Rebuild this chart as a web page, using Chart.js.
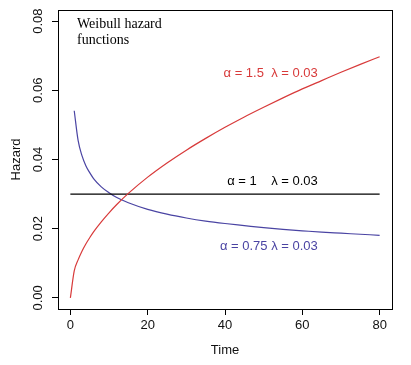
<!DOCTYPE html>
<html>
<head>
<meta charset="utf-8">
<script src="https://cdn.jsdelivr.net/npm/chart.js@4/dist/chart.umd.min.js"></script>
<style>
  html, body { margin: 0; padding: 0; background: #fff; }
</style>
</head>
<body>
<canvas id="chart" width="411" height="365"></canvas>
<script>
// values
const timeRed = [0, 1, 2, 3, 4, 5, 6, 8, 10, 12, 15, 20, 25, 30, 35, 40, 45, 50, 55, 60, 65, 70, 75, 80];
const hazardRed = [0, 0.0078, 0.0110, 0.0135, 0.0156, 0.0174, 0.0191, 0.0220, 0.0246, 0.0270, 0.0302, 0.0349,
  0.0390, 0.0427, 0.0461, 0.0493, 0.0523, 0.0551, 0.0578, 0.0604, 0.0628, 0.0652, 0.0675, 0.0697];

const timeBlue = [1, 2, 3, 4, 5, 6, 8, 10, 12, 15, 20, 25, 30, 35, 40, 45, 50, 55, 60, 65, 70, 75, 80];
const hazardBlue = [0.0541, 0.0455, 0.0411, 0.0382, 0.0362, 0.0345, 0.0321, 0.0304, 0.0290, 0.0275, 0.0256,
  0.0242, 0.0231, 0.0222, 0.0215, 0.0209, 0.0203, 0.0198, 0.0194, 0.0190, 0.0187, 0.0184, 0.0181];

const timeBlack = [0, 80];
const hazardBlack = [0.03, 0.03];

const xTicks = [0, 20, 40, 60, 80];
const yTicks = [0.00, 0.02, 0.04, 0.06, 0.08];

const RED = "#d83a3a";
const BLUE = "#4a44a3";
const SANS = "'Liberation Sans', Arial, sans-serif";
const SERIF = "'Liberation Serif', 'Times New Roman', serif";

function toPoints(xs, ys) {
  return xs.map((x, i) => ({ x: x, y: ys[i] }));
}

const decorations = {
  id: "decorations",
  afterDraw(chart) {
    const ctx = chart.ctx;
    const area = chart.chartArea;
    const xs = chart.scales.x;
    const ys = chart.scales.y;

    ctx.save();
    // box round the plot
    ctx.strokeStyle = "#000";
    ctx.lineWidth = 1;
    ctx.strokeRect(Math.round(area.left) + 0.5, Math.round(area.top) + 0.5,
      Math.round(area.right - area.left), Math.round(area.bottom - area.top));

    // y tick labels, turned like in R
    ctx.fillStyle = "#111";
    ctx.font = "13px " + SANS;
    ctx.textAlign = "center";
    ctx.textBaseline = "middle";
    for (const v of yTicks) {
      ctx.save();
      ctx.translate(38, ys.getPixelForValue(v));
      ctx.rotate(-Math.PI / 2);
      ctx.fillText(v.toFixed(2), 0, 0);
      ctx.restore();
    }

    // axis titles
    ctx.save();
    ctx.translate(16, (area.top + area.bottom) / 2);
    ctx.rotate(-Math.PI / 2);
    ctx.fillText("Hazard", 0, 0);
    ctx.restore();
    ctx.fillText("Time", (area.left + area.right) / 2, 350);

    // title
    ctx.fillStyle = "#000";
    ctx.font = "14px " + SERIF;
    ctx.textAlign = "left";
    ctx.textBaseline = "alphabetic";
    ctx.fillText("Weibull hazard", 77, 28);
    ctx.fillText("functions", 77, 44);

    // curve labels
    ctx.font = "13px " + SANS;
    ctx.textAlign = "right";
    ctx.textBaseline = "middle";
    ctx.fillStyle = RED;
    ctx.fillText("\u03b1 = 1.5  \u03bb = 0.03", xs.getPixelForValue(64), ys.getPixelForValue(0.0649));
    ctx.fillStyle = "#000";
    ctx.fillText("\u03b1 = 1    \u03bb = 0.03", xs.getPixelForValue(64), ys.getPixelForValue(0.0336));
    ctx.fillStyle = BLUE;
    ctx.fillText("\u03b1 = 0.75 \u03bb = 0.03", xs.getPixelForValue(64), ys.getPixelForValue(0.0150));
    ctx.restore();
  }
};

new Chart(document.getElementById("chart"), {
  type: "line",
  data: {
    datasets: [
      { data: toPoints(timeRed, hazardRed), borderColor: RED },
      { data: toPoints(timeBlack, hazardBlack), borderColor: "#000" },
      { data: toPoints(timeBlue, hazardBlue), borderColor: BLUE },
    ]
  },
  options: {
    responsive: false,
    animation: false,
    layout: { padding: { left: 0, right: 19, top: 10, bottom: 0 } },
    elements: {
      point: { radius: 0 },
      line: { borderWidth: 1.2, tension: 0.3, cubicInterpolationMode: "monotone" }
    },
    plugins: {
      legend: { display: false },
      tooltip: { enabled: false }
    },
    scales: {
      x: {
        type: "linear",
        min: -3.2,
        max: 83.2,
        afterBuildTicks: (s) => { s.ticks = xTicks.map(v => ({ value: v })); },
        afterFit: (s) => { s.height = 56; },
        border: { display: false },
        grid: { drawOnChartArea: false, drawTicks: true, tickLength: 6, color: "#000" },
        ticks: { color: "#111", font: { family: SANS, size: 13 }, padding: 3, maxRotation: 0 }
      },
      y: {
        min: -0.0032,
        max: 0.0832,
        afterBuildTicks: (s) => { s.ticks = yTicks.map(v => ({ value: v })); },
        afterFit: (s) => { s.width = 58; },
        border: { display: false },
        grid: { drawOnChartArea: false, drawTicks: true, tickLength: 6, color: "#000" },
        ticks: { display: false }
      }
    }
  },
  plugins: [decorations]
});
</script>
</body>
</html>
